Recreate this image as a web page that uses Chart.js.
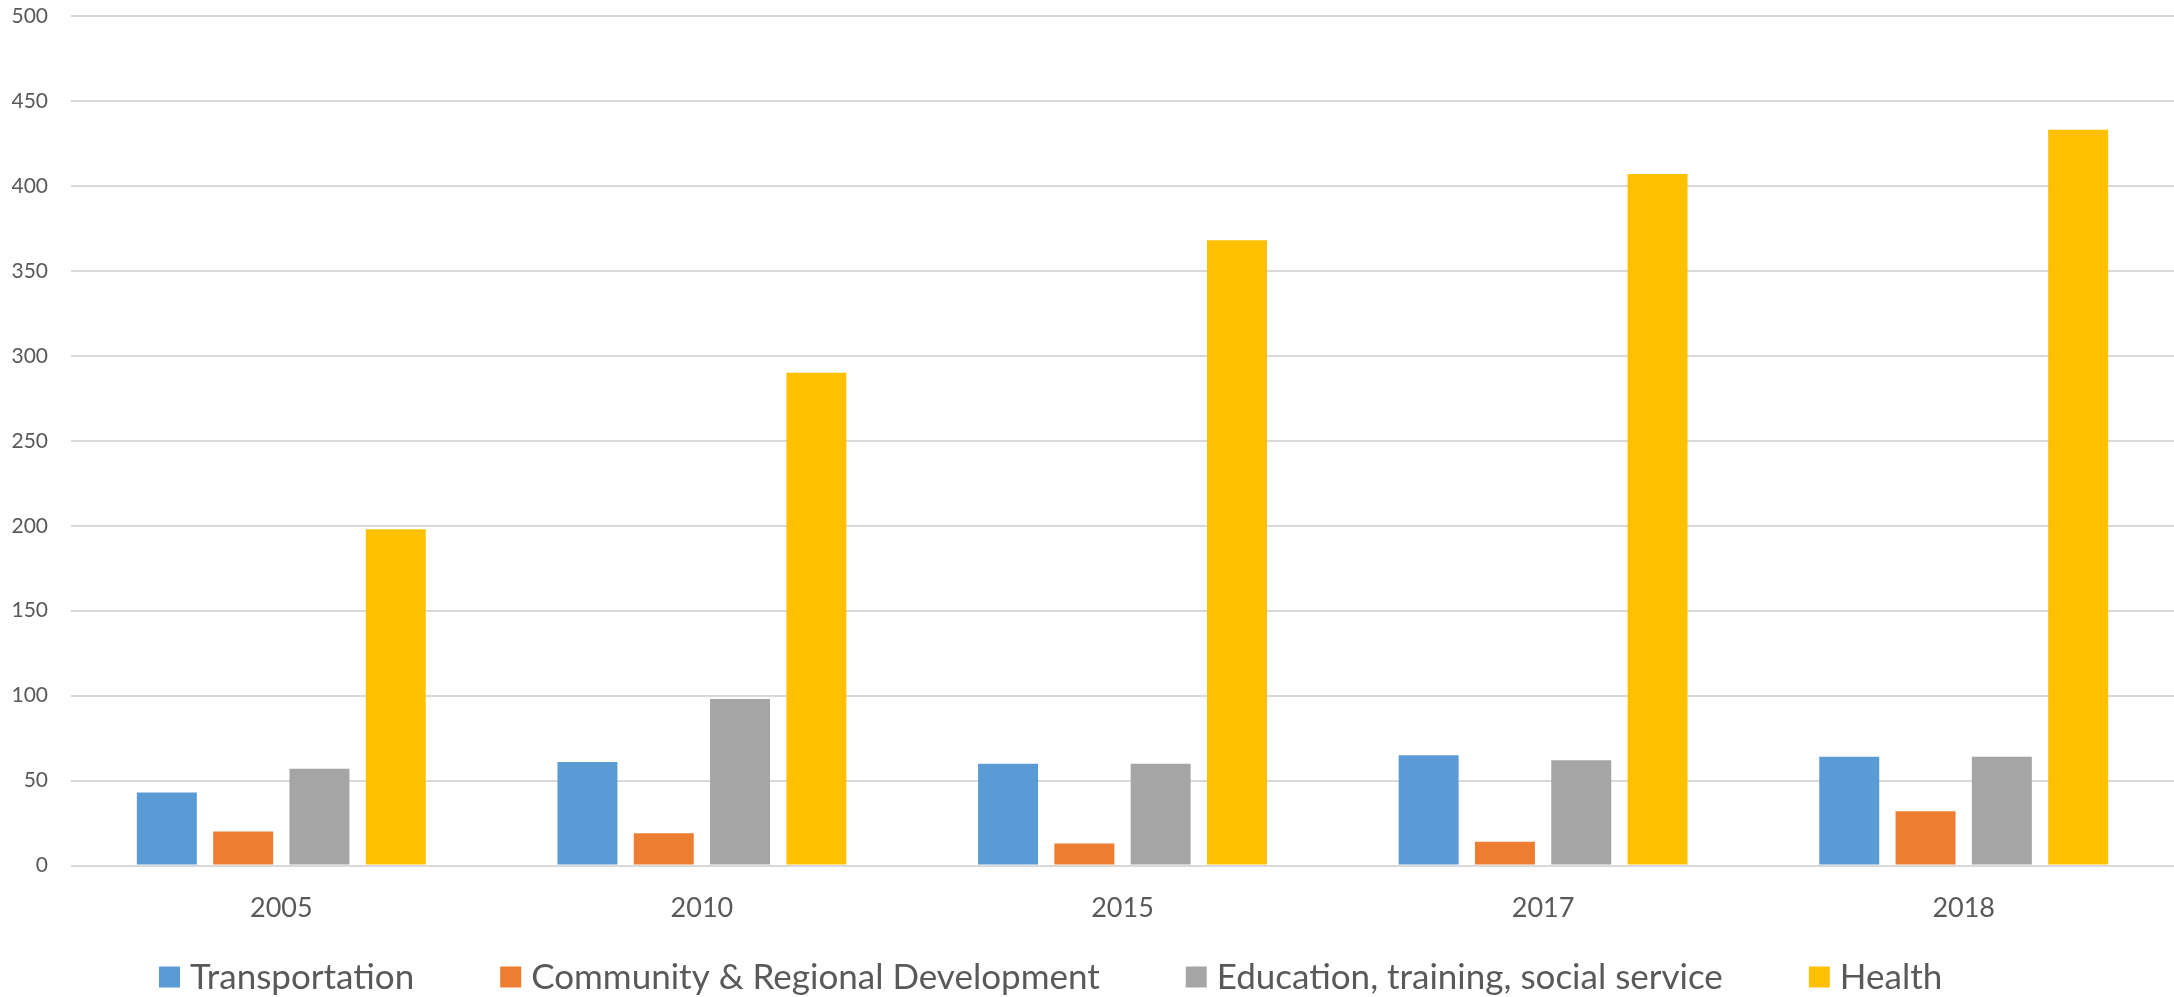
<!DOCTYPE html>
<html>
<head>
<meta charset="utf-8">
<script src="https://cdn.jsdelivr.net/npm/chart.js@4.4.1/dist/chart.umd.min.js"></script>
<style>
  body { margin: 0; background: #fff; }
  #wrap { width: 2174px; height: 997px; }
</style>
</head>
<body>
<div id="wrap"><canvas id="myChart" width="2174" height="997"></canvas></div>
<script>
// datos
var years = ['2005', '2010', '2015', '2017', '2018'];
var transportation = [43, 61, 60, 65, 64];
var community = [20, 19, 13, 14, 32];
var education = [57, 98, 60, 62, 64];
var health = [198, 290, 368, 407, 433];
var yTicks = [0, 50, 100, 150, 200, 250, 300, 350, 400, 450, 500];

var FONT = 'Lato';
var GREY = '#595959';

// leyenda dibujada a mano (la de Chart.js usa el mismo padding en vertical)
var bottomLegend = {
	id: 'bottomLegend',
	afterDraw: function(chart) {
		var ctx = chart.ctx;
		var sets = chart.data.datasets;
		var box = 21, textGap = 10, gap = 86;
		var y = 977;
		ctx.save();
		ctx.font = '35px ' + FONT;
		ctx.textBaseline = 'middle';
		var x = 159;
		for (var i = 0; i < sets.length; i++) {
			ctx.fillStyle = sets[i].backgroundColor;
			ctx.fillRect(x, y - box / 2, box, box);
			ctx.fillStyle = GREY;
			ctx.fillText(sets[i].label, x + box + textGap, y + 1);
			x += box + textGap + ctx.measureText(sets[i].label).width + gap;
		}
		ctx.restore();
	}
};

var ctx = document.getElementById('myChart').getContext('2d');
var myChart = new Chart(ctx, {
	type: 'bar',
	data: {
		labels: years,
		datasets: [
			{ label: 'Transportation', data: transportation, backgroundColor: '#5B9BD5' },
			{ label: 'Community & Regional Development', data: community, backgroundColor: '#ED7D31' },
			{ label: 'Education, training, social service', data: education, backgroundColor: '#A5A5A5' },
			{ label: 'Health', data: health, backgroundColor: '#FFC000' }
		]
	},
	options: {
		responsive: false,
		devicePixelRatio: 1,
		animation: false,
		datasets: {
			bar: { categoryPercentage: 0.7257, barPercentage: 0.786 }
		},
		layout: { padding: { top: 0, left: 0, right: 0, bottom: 47 } },
		plugins: {
			legend: { display: false },
			tooltip: { enabled: false }
		},
		scales: {
			x: {
				grid: { display: false, drawTicks: false },
				border: { display: false },
				ticks: { color: GREY, font: { family: FONT, size: 27 }, padding: 26 }
			},
			y: {
				min: yTicks[0],
				max: yTicks[yTicks.length - 1],
				afterBuildTicks: function(axis) {
					axis.ticks = yTicks.map(function(v) { return { value: v }; });
				},
				afterFit: function(axis) {
					axis.width = 71;
					axis.paddingTop = 16;
				},
				grid: { color: '#D9D9D9', lineWidth: 2, drawTicks: false },
				border: { display: false },
				ticks: { color: GREY, font: { family: FONT, size: 21 }, padding: 23 }
			}
		}
	},
	plugins: [bottomLegend]
});
</script>
</body>
</html>
